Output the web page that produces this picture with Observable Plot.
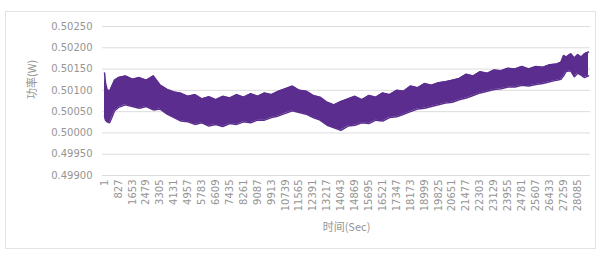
<!DOCTYPE html>
<html>
<head>
<meta charset="utf-8">
<script src="https://cdn.jsdelivr.net/npm/d3@7"></script>
<script src="https://cdn.jsdelivr.net/npm/@observablehq/plot@0.6"></script>
<style>
  html, body { margin: 0; padding: 0; background: #fff; }
  #wrap { position: relative; width: 600px; height: 253px; }
  #frame { position: absolute; left: 5px; top: 11px; width: 589px; height: 236px; border: 1px solid #e3e3e3; pointer-events: none; }
</style>
</head>
<body>
<div id="wrap"><div id="frame"></div></div>
<script>
// time (s) sampled along the trace
const times = [1, 60, 150, 300, 415, 600, 830, 1240, 1660, 2070, 2480, 2900, 3310, 3720, 4130, 4550, 4960, 5370, 5780, 6200, 6610, 7020, 7440, 7850, 8260, 8680, 9090, 9500, 9910, 10330, 10740, 11150, 11570, 11980, 12390, 12800, 13220, 13630, 14040, 14460, 14870, 15280, 15700, 16110, 16520, 16930, 17350, 17760, 18170, 18590, 19000, 19410, 19830, 20240, 20650, 21060, 21480, 21890, 22300, 22720, 23130, 23540, 23960, 24370, 24780, 25190, 25610, 26020, 26430, 26850, 27100, 27260, 27400, 27680, 27900, 28100, 28300, 28500, 28738];
// upper envelope of power (W)
const upper = [0.50141, 0.50118, 0.50102, 0.50098, 0.50108, 0.50124, 0.50130, 0.50134, 0.50126, 0.50130, 0.50124, 0.50134, 0.50112, 0.50102, 0.50096, 0.50093, 0.50086, 0.50090, 0.50080, 0.50085, 0.50078, 0.50086, 0.50082, 0.50090, 0.50084, 0.50092, 0.50086, 0.50094, 0.50090, 0.50098, 0.50104, 0.50110, 0.50100, 0.50098, 0.50088, 0.50084, 0.50072, 0.50066, 0.50074, 0.50080, 0.50086, 0.50078, 0.50088, 0.50084, 0.50094, 0.50090, 0.50100, 0.50098, 0.50110, 0.50106, 0.50116, 0.50112, 0.50118, 0.50120, 0.50124, 0.50128, 0.50138, 0.50134, 0.50144, 0.50140, 0.50148, 0.50146, 0.50152, 0.50150, 0.50156, 0.50150, 0.50156, 0.50154, 0.50160, 0.50162, 0.50166, 0.50182, 0.50178, 0.50186, 0.50176, 0.50184, 0.50178, 0.50186, 0.50190];
// lower envelope of power (W)
const lower = [0.50040, 0.50030, 0.50026, 0.50024, 0.50034, 0.50052, 0.50060, 0.50066, 0.50062, 0.50058, 0.50062, 0.50054, 0.50056, 0.50044, 0.50036, 0.50028, 0.50026, 0.50020, 0.50024, 0.50016, 0.50020, 0.50015, 0.50022, 0.50020, 0.50026, 0.50024, 0.50030, 0.50030, 0.50036, 0.50040, 0.50046, 0.50052, 0.50048, 0.50044, 0.50036, 0.50030, 0.50018, 0.50012, 0.50006, 0.50016, 0.50018, 0.50024, 0.50022, 0.50030, 0.50028, 0.50036, 0.50038, 0.50044, 0.50050, 0.50056, 0.50058, 0.50062, 0.50066, 0.50070, 0.50072, 0.50078, 0.50082, 0.50088, 0.50094, 0.50098, 0.50102, 0.50104, 0.50108, 0.50108, 0.50112, 0.50110, 0.50114, 0.50116, 0.50120, 0.50124, 0.50126, 0.50134, 0.50144, 0.50146, 0.50132, 0.50140, 0.50136, 0.50130, 0.50134];
// axis ticks
const xTicks = [1, 827, 1653, 2479, 3305, 4131, 4957, 5783, 6609, 7435, 8261, 9087, 9913, 10739, 11565, 12391, 13217, 14043, 14869, 15695, 16521, 17347, 18173, 18999, 19825, 20651, 21477, 22303, 23129, 23955, 24781, 25607, 26433, 27259, 28085];
const yTicks = [0.49900, 0.49950, 0.50000, 0.50050, 0.50100, 0.50150, 0.50200, 0.50250];
const yTitle = "功率(W)";
const xTitle = "时间(Sec)";

const data = times.map((t, i) => ({t, hi: upper[i], lo: lower[i]}));
const purple = "#5a2d8e";
const tickFont = "DejaVu Sans, sans-serif";
const textGray = "#959595";

const chart = Plot.plot({
  width: 600,
  height: 253,
  marginLeft: 102,
  marginRight: 10,
  marginTop: 26,
  marginBottom: 78,
  style: {fontFamily: tickFont, fontSize: "10px", color: textGray, background: "transparent"},
  x: {domain: [-118, 28857]},
  y: {domain: [0.499, 0.5025]},
  marks: [
    Plot.ruleY(yTicks, {stroke: "#dcdcdc", strokeWidth: 1}),
    Plot.areaY(data, {x: "t", y1: "lo", y2: "hi", fill: purple}),
    Plot.line(data, {x: "t", y: "hi", stroke: purple, strokeWidth: 1.5}),
    Plot.line(data, {x: "t", y: "lo", stroke: purple, strokeWidth: 1.5}),
    Plot.axisY({ticks: yTicks, tickFormat: d3.format(".5f"), tickSize: 0, tickPadding: 10, label: null, fill: textGray}),
    Plot.axisX({ticks: xTicks, tickFormat: d => String(d), tickSize: 0, tickPadding: 4, tickRotate: -90, label: null, fill: textGray}),
    Plot.text([yTitle], {frameAnchor: "left", dx: -70, dy: -2, rotate: -90, text: d => d, fill: textGray, fontSize: 11, fontFamily: "Noto Sans CJK SC, sans-serif"}),
    Plot.text([xTitle], {frameAnchor: "bottom", dy: 55, text: d => d, fill: textGray, fontSize: 11, fontFamily: "Noto Sans CJK SC, sans-serif"})
  ]
});
document.getElementById("wrap").appendChild(chart);
chart.style.position = "absolute";
chart.style.left = "0px";
chart.style.top = "0px";
</script>
</body>
</html>
